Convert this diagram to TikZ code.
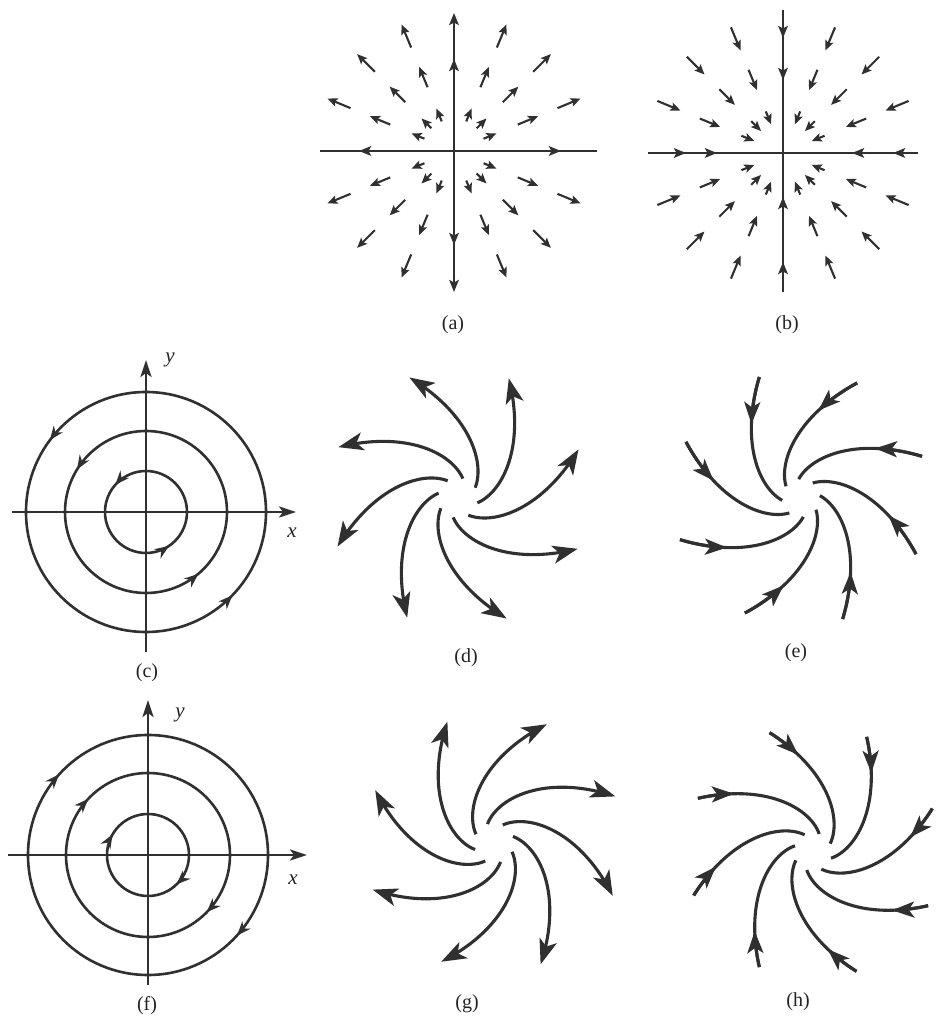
\documentclass[tikz,border=0pt]{standalone}
\usepackage{fontspec}
\setmainfont{Liberation Serif}
\usepackage{tikz}
\usetikzlibrary{arrows.meta,decorations.markings}
\definecolor{ink}{RGB}{48,48,48}
\definecolor{tagink}{RGB}{35,35,35}
\tikzset{
  axis/.style={color=ink, line width=2.4pt},
  axtip/.style={-{Stealth[length=12pt,width=9.5pt,inset=2.5pt]}},
  bigtip/.style={-{Stealth[length=17pt,width=11pt,inset=4pt]}},
  axmark/.style={postaction={decorate}, decoration={markings,
    mark=at position #1 with {\arrow{Stealth[length=12pt,width=9.5pt,inset=2.5pt]}}}},
  axmarks/.style 2 args={postaction={decorate}, decoration={markings,
    mark=at position #1 with {\arrow{Stealth[length=12pt,width=9.5pt,inset=2.5pt]}},
    mark=at position #2 with {\arrow{Stealth[length=12pt,width=9.5pt,inset=2.5pt]}}}},
  ray/.style={color=ink, line width=2.1pt, -{Stealth[length=10pt,width=8.5pt,inset=2pt]}},
  orbit/.style={color=ink, line width=2.6pt},
  ccw/.style 2 args={postaction={decorate}, decoration={markings,
    mark=at position #1 with {\arrow{Stealth[length=14pt,width=11pt,inset=4.5pt]}},
    mark=at position #2 with {\arrow{Stealth[length=14pt,width=11pt,inset=4.5pt]}}}},
  cw/.style 2 args={postaction={decorate}, decoration={markings,
    mark=at position #1 with {\arrowreversed{Stealth[length=14pt,width=11pt,inset=4.5pt]}},
    mark=at position #2 with {\arrowreversed{Stealth[length=14pt,width=11pt,inset=4.5pt]}}}},
  flow/.style={color=ink, line width=3.1pt},
  outtip/.style={-{Stealth[length=25pt,width=18pt,inset=6.5pt]}},
  intip/.style={-{Stealth[length=22pt,width=16pt,inset=5.5pt]}},
  tag/.style={font=\fontsize{20}{22}\selectfont, text=tagink, inner sep=0pt},
  axlab/.style={font=\itshape\fontsize{21}{22}\selectfont, text=tagink, inner sep=0pt}
}

\begin{document}
\begin{tikzpicture}[x=1pt,y=1pt]
  \fill[white] (0,0) rectangle (939,1016);
  \useasboundingbox (0,0) rectangle (939,1016);
  \coordinate (ca) at (454,865);
  \coordinate (cb) at (783,863);
  \coordinate (cc) at (146,504);
  \coordinate (cd) at (458,518);
  \coordinate (ce) at (801,518);
  \coordinate (cf) at (148,161);
  \coordinate (cg) at (494,173);
  \coordinate (ch) at (813,164);

  \draw[axis, axtip, axmark=92pt] (ca) -- ++(0,138);
  \draw[axis, axtip, axmark=94pt] (ca) -- ++(0,-141);
  \draw[axis, axmark=95pt] (ca) -- ++(-134,0);
  \draw[axis, axmark=107pt] (ca) -- ++(143,0);
  \foreach \a in {22.5,45,67.5,112.5,135,157.5,202.5,225,247.5,292.5,315,337.5}
    \foreach \r/\R in {32/46,69/91,112/137}
      \draw[ray] ([shift={(\a:\r)}]ca) -- ([shift={(\a:\R)}]ca);

  \draw[axis, axmarks={28pt}{70pt}] ([yshift=143]cb) -- (cb);
  \draw[axis, axmarks={30pt}{95pt}] ([yshift=-139]cb) -- (cb);
  \draw[axis, axmarks={38pt}{69pt}] ([xshift=-135]cb) -- (cb);
  \draw[axis, axmarks={25pt}{66pt}] ([xshift=135]cb) -- (cb);
  \foreach \a in {22.5,45,67.5,112.5,135,157.5,202.5,225,247.5,292.5,315,337.5}
    \foreach \r/\R in {31/45,68/90,111/136}
      \draw[ray] ([shift={(\a:\R)}]cb) -- ([shift={(\a:\r)}]cb);

  \draw[axis, bigtip] ([xshift=-134]cc) -- ([xshift=150]cc);
  \draw[axis, bigtip] ([yshift=-140]cc) -- ([yshift=152]cc);
  \foreach \rad/\p/\q in {41/0.385/0.845, 81/0.412/0.862, 120/0.398/0.878}
    \draw[orbit, ccw={\p}{\q}] (cc) circle[radius=\rad];
  \node[axlab] (yc) at (170,656) {y};
  \node[axlab] (xc) at (292,483) {x};

  \begin{scope}[shift={(cd)}]
    \foreach \k in {0,...,7}
      \draw[flow, outtip] plot[domain=0:1, samples=40, smooth, variable=\t]
        ({22+45*\k-81*(1-\t)}:{20*exp(1.872*\t)});
  \end{scope}

  \begin{scope}[shift={(ce)}]
    \foreach \k in {0,...,7} {
      \draw[flow] plot[domain=0:1, samples=40, smooth, variable=\t]
        ({19+45*\k+78*\t}:{128*exp(-1.908*\t)});
      \draw[flow, intip] plot[domain=0:0.19, samples=10, smooth, variable=\t]
        ({19+45*\k+78*\t}:{128*exp(-1.908*\t)});
    }
  \end{scope}

  \draw[axis, bigtip] ([xshift=-140]cf) -- ([xshift=159]cf);
  \draw[axis, bigtip] ([yshift=-130]cf) -- ([yshift=155]cf);
  \foreach \rad/\p/\q in {41/0.416/0.872, 82/0.380/0.877, 120/0.383/0.883}
    \draw[orbit, cw={\p}{\q}] (cf) circle[radius=\rad];
  \node[axlab] (yf) at (180,301) {y};
  \node[axlab] (xf) at (293,136) {x};

  \begin{scope}[shift={(cg)}]
    \foreach \k in {0,...,7}
      \draw[flow, outtip] plot[domain=0:1, samples=40, smooth, variable=\t]
        ({21+45*\k+88*(1-\t)}:{20*exp(1.872*\t)});
  \end{scope}

  \begin{scope}[shift={(ch)}]
    \foreach \k in {0,...,7} {
      \draw[flow] plot[domain=0:1, samples=40, smooth, variable=\t]
        ({20+45*\k-84*\t}:{127*exp(-1.897*\t)});
      \draw[flow, intip] plot[domain=0:0.135, samples=10, smooth, variable=\t]
        ({20+45*\k-84*\t}:{127*exp(-1.897*\t)});
    }
  \end{scope}

  \node[tag] (la) at (453,691) {(a)};
  \node[tag] (lb) at (787,691) {(b)};
  \node[tag] (lc) at (147,343) {(c)};
  \node[tag] (ld) at (466,358) {(d)};
  \node[tag] (le) at (796,363) {(e)};
  \node[tag] (lf) at (147,10) {(f)};
  \node[tag] (lg) at (467,12) {(g)};
  \node[tag] (lh) at (798,14) {(h)};
\end{tikzpicture}
\end{document}
